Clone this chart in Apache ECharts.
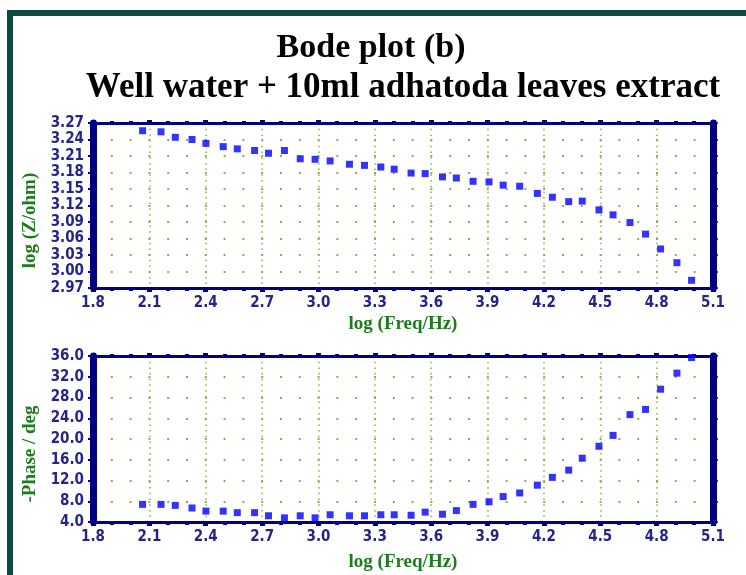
<!DOCTYPE html>
<html>
<head>
<meta charset="utf-8">
<script src="https://cdn.jsdelivr.net/npm/echarts@6/dist/echarts.min.js"></script>
<style>
  html, body { margin: 0; padding: 0; background: #fff; }
  #chart { width: 746px; height: 575px; }
</style>
</head>
<body>
<div id="chart"></div>
<script>
// log frequency of each measured point
var logFreq = [2.064, 2.162, 2.238, 2.327, 2.401, 2.493, 2.568, 2.660, 2.734, 2.819,
  2.903, 2.982, 3.062, 3.165, 3.245, 3.332, 3.403, 3.493, 3.568, 3.660,
  3.734, 3.823, 3.908, 3.983, 4.071, 4.165, 4.245, 4.332, 4.404, 4.493,
  4.568, 4.658, 4.741, 4.821, 4.908, 4.986];
// log |Z|
var logZ = [3.256, 3.254, 3.244, 3.240, 3.233, 3.227, 3.223, 3.220, 3.215, 3.220,
  3.205, 3.204, 3.201, 3.195, 3.193, 3.190, 3.186, 3.179, 3.178, 3.172,
  3.170, 3.164, 3.163, 3.157, 3.155, 3.142, 3.135, 3.127, 3.128, 3.112,
  3.103, 3.089, 3.068, 3.041, 3.016, 2.984];
// -phase in degrees
var phase = [7.4, 7.4, 7.2, 6.7, 6.1, 6.1, 5.8, 5.8, 5.2, 4.8,
  5.2, 4.8, 5.4, 5.2, 5.2, 5.4, 5.4, 5.3, 5.9, 5.5,
  6.2, 7.4, 7.9, 8.9, 9.6, 11.1, 12.6, 14.0, 16.3, 18.6,
  20.7, 24.7, 25.7, 29.6, 32.7, 35.7];

var titleMain = 'Bode plot (b)';
var titleSub = 'Well water + 10ml adhatoda leaves extract';

var navy = '#000080';
var labelCol = '#24248a';
var nameCol = '#1e7b1e';
var dotCol = '#8db04a';
var tickFont = '"Liberation Sans Narrow", "DejaVu Sans Condensed", sans-serif';
var serif = '"Liberation Serif", "DejaVu Serif", serif';

function pairs(ys) {
  return logFreq.map(function (x, i) { return [x, ys[i]]; });
}

var chart = echarts.init(document.getElementById('chart'));

function xAxes(gi) {
  return [{
    type: 'value', gridIndex: gi, position: 'bottom',
    min: 1.8, max: 5.1, interval: 0.3,
    name: 'log (Freq/Hz)', nameLocation: 'middle', nameGap: gi === 0 ? 27 : 31,
    nameTextStyle: { color: nameCol, fontFamily: serif, fontWeight: 'bold', fontSize: 19 },
    axisLine: { show: true, lineStyle: { color: navy, width: 3 } },
    axisTick: { show: true, inside: false, length: 4, lineStyle: { color: navy, width: 5 } },
    minorTick: { show: true, splitNumber: 3, length: 3, lineStyle: { color: navy, width: 4 } },
    axisLabel: { color: labelCol, fontFamily: tickFont, fontWeight: 'bold', fontSize: 15, margin: 8,
      formatter: function (v) { return v.toFixed(1); } },
    splitLine: { show: true, lineStyle: { color: dotCol, width: 1.5, type: [1.5, 4.2] } },
    minorSplitLine: { show: false }
  }, {
    type: 'value', gridIndex: gi, position: 'top',
    min: 1.8, max: 5.1, interval: 0.3,
    axisLine: { show: true, lineStyle: { color: navy, width: 3 } },
    axisTick: { show: true, inside: false, length: 3, lineStyle: { color: navy, width: 5 } },
    minorTick: { show: true, splitNumber: 3, length: 2, lineStyle: { color: navy, width: 4 } },
    axisLabel: { show: false },
    splitLine: { show: false }
  }];
}

function yAxes(gi, min, max, interval, digits, name) {
  return [{
    type: 'value', gridIndex: gi, position: 'left',
    min: min, max: max, interval: interval,
    name: name, nameLocation: 'middle', nameGap: 52,
    nameTextStyle: { color: nameCol, fontFamily: serif, fontWeight: 'bold', fontSize: 19,
      padding: [0, 30, 0, 0] },
    axisLine: { show: true, lineStyle: { color: navy, width: 7 } },
    axisTick: { show: true, inside: false, length: 5, lineStyle: { color: navy, width: 2 } },
    minorTick: { show: true, splitNumber: 3, length: 3, lineStyle: { color: navy, width: 1.5 } },
    axisLabel: { color: labelCol, fontFamily: tickFont, fontWeight: 'bold', fontSize: 15, margin: 9,
      formatter: function (v) { return v.toFixed(digits); } },
    splitLine: { show: true, lineStyle: { color: dotCol, width: 2, type: [2, 16.8], dashOffset: 1 } }
  }, {
    type: 'value', gridIndex: gi, position: 'right',
    min: min, max: max, interval: interval,
    axisLine: { show: true, lineStyle: { color: navy, width: 7 } },
    axisTick: { show: true, inside: false, length: 5, lineStyle: { color: navy, width: 1.5 } },
    minorTick: { show: true, splitNumber: 3, length: 3, lineStyle: { color: navy, width: 1 } },
    axisLabel: { show: false },
    splitLine: { show: false }
  }];
}

var option = {
  backgroundColor: '#fff',
  animation: false,
  graphic: [
    { type: 'rect', shape: { x: 7, y: 10, width: 6, height: 565 }, style: { fill: '#0d4a45' } },
    { type: 'rect', shape: { x: 7, y: 10, width: 739, height: 6 }, style: { fill: '#0d4a45' } },
    { type: 'text', x: 371, y: 48,
      style: { text: titleMain, font: 'bold 34px ' + serif, fill: '#000', align: 'center', verticalAlign: 'middle' } },
    { type: 'text', x: 403, y: 88,
      style: { text: titleSub, font: 'bold 35px ' + serif, fill: '#000', align: 'center', verticalAlign: 'middle' } }
  ],
  grid: [
    { left: 93, right: 33, top: 123, height: 165 },
    { left: 93, right: 33, top: 356, height: 166 }
  ],
  xAxis: xAxes(0).concat(xAxes(1)),
  yAxis: yAxes(0, 2.97, 3.27, 0.03, 2, 'log (Z/ohm)').concat(yAxes(1, 4, 36, 4, 1, '-Phase / deg')),
  series: [
    { type: 'scatter', xAxisIndex: 0, yAxisIndex: 0, data: pairs(logZ),
      symbol: 'rect', symbolSize: 7, itemStyle: { color: '#0000ff' } },
    { type: 'scatter', xAxisIndex: 2, yAxisIndex: 2, data: pairs(phase),
      symbol: 'rect', symbolSize: 7, itemStyle: { color: '#0000ff' } }
  ]
};
chart.setOption(option);
</script>
</body>
</html>
